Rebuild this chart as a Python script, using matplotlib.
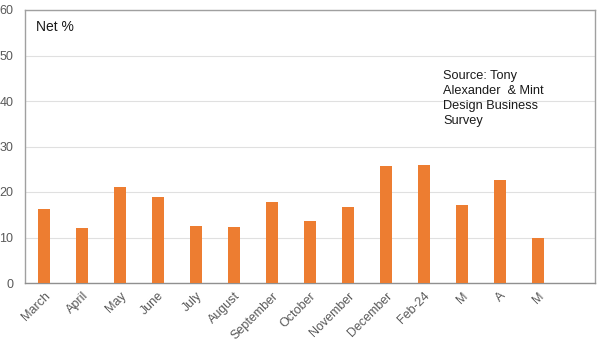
import matplotlib
matplotlib.use("Agg")
import matplotlib.pyplot as plt

plt.rcParams['font.family'] = ['Liberation Sans', 'DejaVu Sans']

categories = ["March", "April", "May", "June", "July", "August", "September",
              "October", "November", "December", "Feb-24", "M", "A", "M", ""]
net_pct = [16.3, 12.0, 21.2, 19.0, 12.6, 12.2, 17.9,
           13.7, 16.6, 25.7, 25.9, 17.1, 22.6, 9.9, None]
y_ticks = [0, 10, 20, 30, 40, 50, 60]

fig = plt.figure(figsize=(5.98, 3.43), dpi=100)
ax = fig.add_axes([25 / 598, 1 - 283 / 343, 570 / 598, 273 / 343])

xs = list(range(len(categories)))
heights = [v if v is not None else 0 for v in net_pct]
ax.bar(xs, heights, width=0.32, color="#ED7D31", zorder=3)

ax.set_xlim(-0.5, len(categories) - 0.5)
ax.set_ylim(0, 60)
ax.set_yticks(y_ticks)
ax.set_yticklabels([str(t) for t in y_ticks])
ax.set_xticks(xs)
ax.set_xticklabels(categories, rotation=45, ha="right", rotation_mode="anchor")

ax.yaxis.grid(True, color="#e0e0e0", linewidth=0.8, zorder=0)
ax.tick_params(axis="both", length=0, labelsize=9, labelcolor="#595959")
ax.tick_params(axis="y", pad=8.5)
ax.tick_params(axis="x", pad=5)

for side in ["left", "bottom", "top", "right"]:
    ax.spines[side].set_color("#a0a0a0")
    ax.spines[side].set_linewidth(1.0)
ax.spines["bottom"].set_color("#909090")

ax.text(0.019, 0.965, "Net %", transform=ax.transAxes, fontsize=10,
        color="#1a1a1a", va="top", ha="left")
ax.text(443 / 598, 1 - 70 / 343, "Source: Tony\nAlexander  & Mint\nDesign Business\nSurvey",
        transform=fig.transFigure, fontsize=9.2, color="#1a1a1a",
        va="top", ha="left", linespacing=1.32)

fig.savefig("out.png", dpi=100)
